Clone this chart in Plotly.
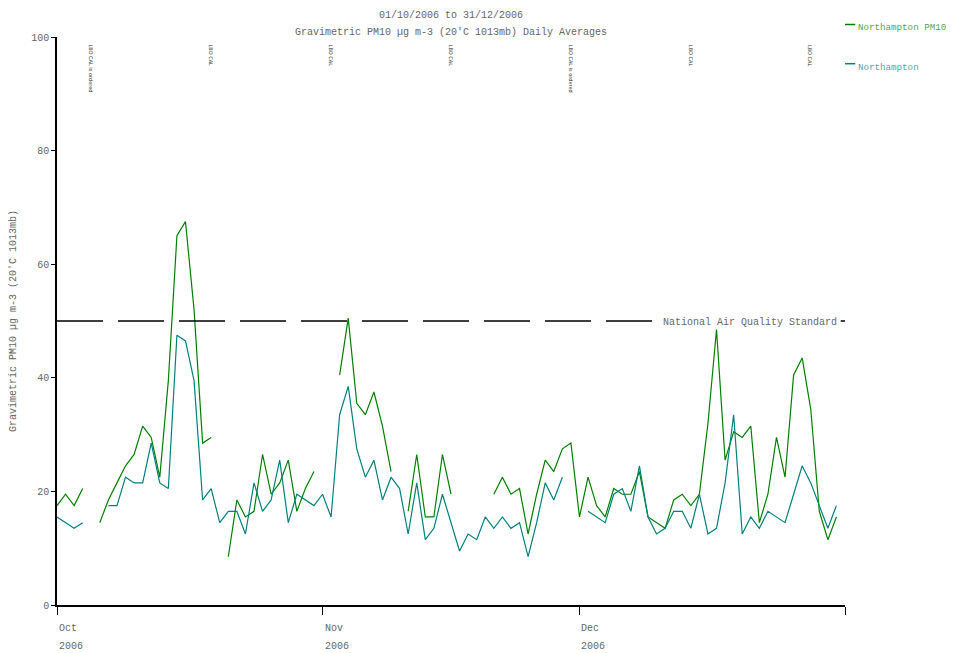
import pandas as pd
import plotly.graph_objects as go

N = None
dates = pd.date_range("2006-10-01", "2006-12-31", freq="D")

pm10 = [17.5, 19.5, 17.5, 20.5, N, 14.5, 18.5, 21.5, 24.5, 26.5,
        31.5, 29.5, 22.5, 39.5, 65, 67.5, 52, 28.5, 29.5, N,
        8.5, 18.5, 15.5, 16.5, 26.5, 19.5, 21.5, 25.5, 16.5, 20.5,
        23.5, N, N, 40.5, 50.5, 35.5, 33.5, 37.5, 31.5, 23.5,
        N, 16.5, 26.5, 15.5, 15.5, 26.5, 19.5, N, N, N,
        N, 19.5, 22.5, 19.5, 20.5, 12.5, 19.5, 25.5, 23.5, 27.5,
        28.5, 15.5, 22.5, 17.5, 15.5, 20.5, 19.5, 19.5, 23.5, 15.5,
        14.5, 13.5, 18.5, 19.5, 17.5, 19.5, 32, 48.5, 25.5, 30.5,
        29.5, 31.5, 14.5, 19.5, 29.5, 22.5, 40.5, 43.5, 34.5, 16.5,
        11.5, 15.5]

north = [15.5, 14.5, 13.5, 14.5, N, N, 17.5, 17.5, 22.5, 21.5,
         21.5, 28.5, 21.5, 20.5, 47.5, 46.5, 39.5, 18.5, 20.5, 14.5,
         16.5, 16.5, 12.5, 21.5, 16.5, 18.5, 25.5, 14.5, 19.5, 18.5,
         17.5, 19.5, 15.5, 33.5, 38.5, 27.5, 22.5, 25.5, 18.5, 22.5,
         20.5, 12.5, 21.5, 11.5, 13.5, 19.5, 14.5, 9.5, 12.5, 11.5,
         15.5, 13.5, 15.5, 13.5, 14.5, 8.5, 14.5, 21.5, 18.5, 22.5,
         N, N, 16.5, 15.5, 14.5, 19.5, 20.5, 16.5, 24.5, 15.5,
         12.5, 13.5, 16.5, 16.5, 13.5, 19.5, 12.5, 13.5, 21.5, 33.5,
         12.5, 15.5, 13.5, 16.5, 15.5, 14.5, 19.5, 24.5, 21.5, 17.5,
         13.5, 17.5]

note_dates = ["2006-10-05", "2006-10-19", "2006-11-02", "2006-11-16",
              "2006-11-30", "2006-12-14", "2006-12-28"]
note_texts = ["LBO CAL is ordered", "LBO CAL", "LBO CAL", "LBO CAL",
              "LBO CAL is ordered", "LBO CAL", "LBO CAL"]

month_ticks = ["2006-10-01", "2006-11-01", "2006-12-01"]
month_labels = ["Oct", "Nov", "Dec"]

FONT = "Liberation Mono"
GREEN = "#008000"
TEAL = "#008080"
GREY = "#666"
FS = 10

fig = go.Figure()
fig.add_trace(go.Scatter(x=dates, y=pm10, mode="lines", name="Northampton PM10",
                         line=dict(color=GREEN, width=1.2), connectgaps=False))
fig.add_trace(go.Scatter(x=dates, y=north, mode="lines", name="Northampton",
                         line=dict(color=TEAL, width=1.2), connectgaps=False))

# national air quality standard
fig.add_shape(type="line", x0="2006-10-01", x1="2006-12-11", y0=50, y1=50,
              line=dict(color="black", width=1.5, dash="46px,15px"))
fig.add_shape(type="line", x0="2006-12-31 12:00", x1="2007-01-01", y0=50, y1=50,
              line=dict(color="black", width=1.5))
fig.add_annotation(x="2006-12-31 06:00", y=50, text="National Air Quality Standard",
                   showarrow=False, xanchor="right", yanchor="middle", yshift=-1,
                   font=dict(family=FONT, size=FS, color=GREY))

for d, t in zip(note_dates, note_texts):
    fig.add_annotation(x=d, y=99, text=t, textangle=90, showarrow=False,
                       xanchor="center", yanchor="top",
                       font=dict(family="DejaVu Sans", size=5, color="#333"))

for d, t in zip(month_ticks, month_labels):
    fig.add_annotation(x=d, y=0, yref="y", text=t, showarrow=False, xanchor="left",
                       yanchor="top", yshift=-16, font=dict(family=FONT, size=FS, color=GREY))
    fig.add_annotation(x=d, y=0, yref="y", text="2006", showarrow=False, xanchor="left",
                       yanchor="top", yshift=-34, font=dict(family=FONT, size=FS, color=GREY))

# legend
for yy, name, col in [(1.016, "Northampton PM10", GREEN), (0.947, "Northampton", TEAL)]:
    fig.add_shape(type="line", xref="paper", yref="paper", x0=1.0, x1=1.013,
                  y0=yy + 0.006, y1=yy + 0.006, line=dict(color=col, width=1.5))
    fig.add_annotation(xref="paper", yref="paper", x=1.014, y=yy, text=name,
                       showarrow=False, xanchor="left", yanchor="middle",
                       font=dict(family=FONT, size=9.2, color=col), opacity=0.7)

fig.add_annotation(xref="paper", yref="paper", x=0.5, y=1.0, yshift=29,
                   text="01/10/2006 to 31/12/2006", showarrow=False,
                   font=dict(family=FONT, size=FS, color=GREY))
fig.add_annotation(xref="paper", yref="paper", x=0.5, y=1.0, yshift=12,
                   text="Gravimetric PM10 µg m-3 (20'C 1013mb) Daily Averages", showarrow=False,
                   font=dict(family=FONT, size=FS, color=GREY))

fig.update_layout(
    width=940, height=645, showlegend=False,
    plot_bgcolor="white", paper_bgcolor="white",
    margin=dict(l=49, r=103, t=29, b=48),
    font=dict(family=FONT, size=FS, color=GREY),
    xaxis=dict(type="date", range=["2006-10-01", "2007-01-01"], showgrid=False,
               tickvals=month_ticks + ["2007-01-01"], showticklabels=False,
               ticks="outside", ticklen=8, tickcolor="black", automargin=False,
               showline=True, linecolor="black", linewidth=1.5, zeroline=False),
    yaxis=dict(range=[0, 100], tickvals=[0, 20, 40, 60, 80, 100], showgrid=False,
               ticks="outside", ticklen=4, tickcolor="black", automargin=False,
               showline=True, linecolor="black", linewidth=1.5, zeroline=False,
               title=dict(text="Gravimetric PM10 µg m-3 (20'C 1013mb)", standoff=22,
                          font=dict(family=FONT, size=FS, color=GREY))),
)

fig.write_html("out.html")
